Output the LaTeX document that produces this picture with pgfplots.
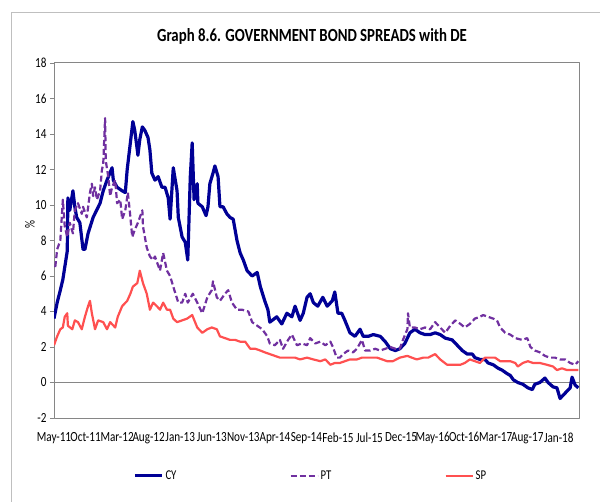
\documentclass[border=0pt]{standalone}
\usepackage{fontspec}
\setmainfont{Carlito}[FakeStretch=0.8]
\usepackage{pgfplots}
\pgfplotsset{compat=1.18}
\definecolor{cy}{RGB}{0,0,150}
\definecolor{pt}{RGB}{112,48,160}
\definecolor{sp}{RGB}{255,80,80}
\definecolor{frm}{RGB}{134,134,134}

\begin{document}
\begin{tikzpicture}
\useasboundingbox (0,0) rectangle (600bp,502bp);
\draw[gray!50, line width=1bp] (11bp,0) -- (11bp,489bp) -- (600bp,489bp);
\node[font=\fontsize{18.6}{20}\selectfont\bfseries] at (312bp,466bp) {Graph 8.6. GOVERNMENT BOND SPREADS with DE};
\node[rotate=90, font=\fontsize{14}{16}\selectfont] at (30bp,277bp) {\%};
\begin{axis}[
    at={(54bp,84bp)}, anchor=south west,
    scale only axis, width=525bp, height=355bp,
    xmin=0, xmax=83.2, ymin=-2, ymax=18,
    ytick={-2,0,...,18},
    xtick={0,5,...,80},
    xticklabels={May-11,Oct-11,Mar-12,Aug-12,Jan-13,Jun-13,Nov-13,Apr-14,Sep-14,Feb-15,Jul-15,Dec-15,May-16,Oct-16,Mar-17,Aug-17,Jan-18},
    /pgf/number format/assume math mode=true,
    tick label style={font=\fontsize{14}{16}\selectfont},
    xticklabel style={yshift=-11bp},
    xtick style={draw=none},
    ytick pos=left, ytick align=outside, major tick length=4bp,
    tick style={frm},
    axis line style={frm, line width=1bp},
    extra y ticks={0}, extra y tick labels={},
    extra y tick style={grid=major, major grid style={frm, line width=0.8bp}},
    legend image code/.code={\draw[#1] (0bp,0bp) -- (27bp,0bp);},
    legend style={draw=none, fill=none, legend columns=3,
        at={(0.145,-0.163)}, anchor=west,
        font=\fontsize{13.5}{15}\selectfont,
        /tikz/every even column/.append style={column sep=111bp}},
    line join=round,
]
\addplot[cy, line width=3.2bp] coordinates {
(0,3.6) (0.5,4.5) (1.0,5.2) (1.4,5.8) (2.1,7.4) (2.2,10.4) (2.5,9.7) (3.0,10.8)
(3.3,9.9) (3.6,9.3) (4.1,9.0) (4.6,7.5) (4.9,7.5) (5.4,8.4) (6.2,9.3) (7.3,10.1)
(7.8,10.8) (8.4,11.4) (9.2,12.1) (9.4,11.4) (10.0,11.0) (10.8,10.8) (11.3,10.7)
(11.6,12.0) (12.1,13.5) (12.5,14.7) (12.8,14.2) (13.2,13.1) (13.3,12.8) (13.6,13.7)
(14.0,14.4) (14.4,14.2) (14.9,13.8) (15.2,13.1) (15.5,11.8) (16.0,11.4) (16.5,11.6)
(17.1,11.0) (17.6,11.0) (18.1,10.4) (18.4,9.2) (18.9,12.1) (19.5,10.8) (19.7,9.3)
(20.3,8.2) (20.8,7.9) (21.2,6.9) (21.6,11.6) (21.9,13.5) (22.2,10.3) (22.7,11.2)
(22.8,10.1) (23.5,9.9) (24.1,9.4) (24.4,9.9) (24.7,11.2) (25.2,11.8) (25.5,12.2)
(26.0,11.6) (26.3,9.9) (26.8,9.9) (27.4,9.5) (27.9,9.3) (28.4,9.2) (29.0,8.0)
(29.5,7.3) (30.0,6.9) (30.6,6.3) (31.4,6.0) (32.2,6.2) (32.7,5.4) (33.4,4.6)
(33.9,4.1) (34.2,3.4) (35.3,3.7) (36.1,3.3) (36.9,3.9) (37.7,3.7) (38.2,4.3)
(39.0,3.5) (39.5,3.9) (40.1,4.8) (40.6,5.0) (41.1,4.5) (41.8,4.3) (42.6,4.8)
(43.3,4.3) (44.1,4.6) (44.5,5.1) (45.0,3.9) (45.6,3.9) (46.1,3.5) (46.9,2.8)
(47.7,2.6) (48.5,3.0) (49.0,2.6) (49.8,2.6) (50.6,2.7) (51.7,2.6) (52.5,2.3)
(53.3,1.9) (54.1,1.8) (54.8,1.9) (55.6,2.2) (56.4,2.8) (57.2,3.0) (58.0,2.8)
(58.8,2.7) (59.6,2.7) (60.4,2.8) (61.2,2.7) (62.0,2.5) (63.1,2.4) (63.9,2.1)
(64.7,1.8) (65.5,1.6) (66.3,1.6) (66.7,1.4) (67.5,1.3) (68.3,1.3) (68.8,1.1)
(69.6,1.0) (70.4,0.8) (71.0,0.7) (71.8,0.5) (72.3,0.4) (72.8,0.15) (73.5,0.0)
(74.3,-0.1) (75.1,-0.3) (75.8,-0.4) (76.2,-0.1) (77.0,0.0) (77.8,0.25) (78.3,0.0)
(79.1,-0.25) (79.7,-0.3) (80.2,-0.9) (81.0,-0.6) (81.8,-0.3) (82.1,0.3) (82.6,-0.15)
(83.1,-0.3)
};
\addlegendentry{CY}
\addplot[pt, line width=2.2bp, dash pattern=on 6bp off 3bp] coordinates {
(0.2,6.5) (0.5,7.5) (1.0,8.0) (1.3,9.7) (1.4,10.3) (1.7,8.8) (2.1,8.2) (2.5,9.0)
(3.0,8.4) (3.3,9.7) (3.8,10.1) (4.4,9.5) (4.6,9.9) (5.2,9.3) (5.7,10.7) (6.0,11.2)
(6.2,10.5) (6.5,11.0) (6.8,10.3) (7.3,10.8) (7.6,12.0) (7.8,12.3) (8.1,14.9)
(8.2,12.5) (8.6,11.6) (8.9,10.5) (9.2,11.0) (9.7,11.4) (10.0,10.1) (10.5,10.3)
(10.8,9.2) (11.3,9.7) (11.7,10.7) (12.0,9.7) (12.4,8.2) (12.8,8.6) (13.3,9.0)
(14.0,9.7) (14.1,8.8) (14.7,7.6) (15.2,7.1) (15.7,6.9) (16.0,7.1) (16.8,6.3)
(17.3,7.3) (17.9,6.3) (18.4,6.0) (18.9,5.4) (19.7,4.5) (20.3,4.5) (20.8,5.0)
(21.2,4.5) (22.0,5.0) (22.7,4.5) (23.5,3.9) (24.3,4.8) (25.0,5.2) (25.2,5.7)
(25.8,4.8) (26.3,4.6) (27.1,5.0) (27.6,5.2) (28.2,4.5) (29.0,4.1) (29.8,4.1)
(30.8,4.0) (31.4,3.4) (32.2,3.2) (33.0,3.0) (33.8,2.6) (34.2,2.2) (35.0,2.1)
(35.8,2.4) (36.3,1.9) (37.1,2.4) (37.7,2.7) (38.5,2.1) (39.3,2.2) (40.1,2.1)
(40.6,2.5) (41.4,2.2) (42.2,2.3) (43.0,2.1) (43.8,2.3) (44.2,2.0) (44.8,1.4)
(45.3,1.4) (45.8,1.6) (46.6,1.8) (47.4,1.7) (48.0,1.9) (48.8,2.4) (49.3,1.8)
(50.1,1.8) (50.9,1.9) (51.7,1.8) (52.5,1.9) (53.3,2.0) (54.1,1.9) (54.8,1.9)
(55.3,2.4) (56.0,3.0) (56.1,3.9) (56.4,3.1) (57.2,3.1) (58.0,3.0) (58.8,3.1)
(59.6,3.0) (60.4,3.4) (61.2,3.1) (62.0,2.8) (62.8,3.2) (63.6,3.5) (64.4,3.3)
(65.1,3.1) (65.9,3.3) (66.7,3.6) (67.5,3.7) (68.0,3.8) (68.8,3.7) (69.6,3.6)
(70.2,3.5) (70.7,3.1) (71.5,2.8) (72.3,2.7) (73.1,2.5) (74.2,2.4) (75.0,2.5)
(75.5,2.0) (76.2,1.8) (77.0,1.7) (77.8,1.5) (78.6,1.4) (79.4,1.4) (80.2,1.3)
(81.0,1.3) (81.8,1.1) (82.6,1.0) (83.1,1.2)
};
\addlegendentry{PT}
\addplot[sp, line width=2.2bp] coordinates {
(0,2.1) (0.5,2.6) (1.0,3.0) (1.4,3.1) (1.7,3.7) (2.1,3.9) (2.2,3.2) (2.9,3.0)
(3.3,3.5) (3.8,3.4) (4.4,3.0) (4.9,3.7) (5.4,4.3) (5.7,4.6) (6.0,3.9) (6.5,3.0)
(7.0,3.5) (7.8,3.4) (8.4,3.0) (8.9,3.4) (9.7,3.1) (10.1,3.7) (10.8,4.3) (11.6,4.6)
(12.1,5.0) (12.5,5.4) (13.2,5.6) (13.6,6.3) (14.1,5.6) (14.7,5.0) (15.2,4.1)
(15.7,4.5) (16.3,4.3) (16.8,4.1) (17.3,4.5) (17.9,4.1) (18.4,4.1) (18.9,3.6)
(19.5,3.4) (20.3,3.5) (21.1,3.6) (21.9,3.8) (22.7,3.1) (23.5,2.8) (24.3,3.0)
(25.0,3.1) (25.8,3.0) (26.3,2.6) (27.1,2.5) (27.9,2.4) (28.7,2.4) (29.5,2.3)
(30.3,2.3) (31.1,1.9) (31.9,1.9) (32.7,1.8) (33.4,1.7) (34.2,1.6) (35.0,1.5)
(35.8,1.4) (36.6,1.4) (37.4,1.4) (38.2,1.4) (39.0,1.3) (40.1,1.4) (41.1,1.3)
(42.2,1.2) (43.0,1.3) (43.8,1.0) (44.5,1.1) (45.3,1.1) (46.1,1.2) (46.9,1.3)
(48.0,1.3) (48.8,1.4) (49.6,1.4) (50.4,1.4) (51.2,1.4) (52.0,1.3) (52.8,1.2)
(53.7,1.2) (54.8,1.4) (56.0,1.5) (56.7,1.4) (57.5,1.3) (58.5,1.4) (59.3,1.4)
(60.4,1.6) (61.2,1.3) (62.3,1.0) (63.2,1.0) (64.4,1.0) (65.1,1.1) (65.9,1.3)
(66.7,1.2) (67.5,1.1) (68.3,1.4) (69.1,1.4) (69.9,1.4) (70.7,1.2) (71.5,1.2)
(72.3,1.2) (73.1,1.1) (73.5,0.9) (74.3,1.1) (75.1,1.2) (75.9,1.1) (77.0,1.1)
(78.1,1.0) (79.1,0.9) (79.7,0.7) (80.5,0.8) (81.3,0.7) (82.3,0.7) (83.1,0.7)
};
\addlegendentry{SP}
\end{axis}
\end{tikzpicture}
\end{document}
